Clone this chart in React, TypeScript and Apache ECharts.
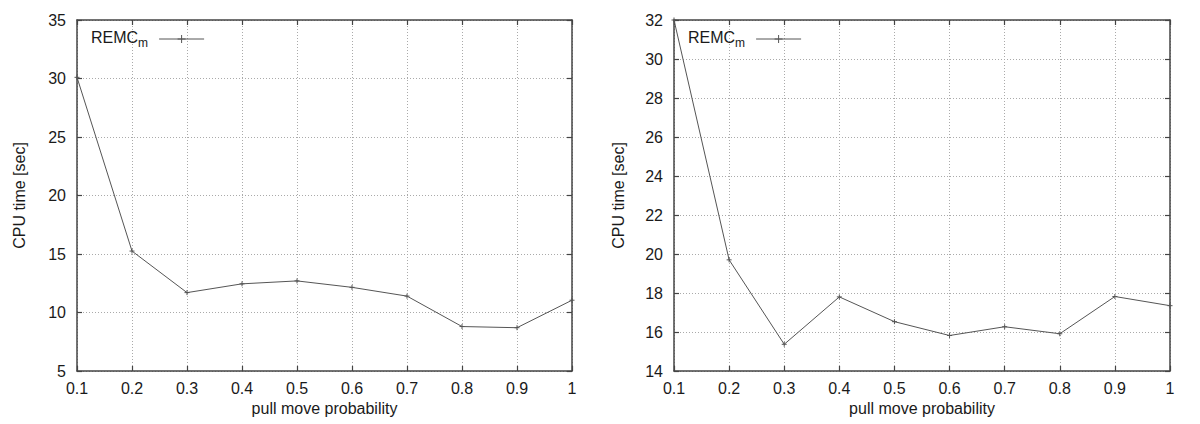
import React, { useEffect, useRef } from "react";
import * as echarts from "echarts";

const probabilities = [0.1, 0.2, 0.3, 0.4, 0.5, 0.6, 0.7, 0.8, 0.9, 1.0];
const cpuTimeLeft = [30.1, 15.25, 11.7, 12.45, 12.7, 12.15, 11.4, 8.8, 8.7, 11.05];
const cpuTimeRight = [32.0, 19.7, 15.37, 17.8, 16.53, 15.82, 16.27, 15.91, 17.82, 17.35];
const seriesName = "REMCm";
const xAxisTitle = "pull move probability";
const yAxisTitle = "CPU time [sec]";

const FONT = "Liberation Sans, Arial, sans-serif";
const TEXT = "#1a1a1a";
const FRAME = "#444";
const LINE = "#555";
const FS = 16;

const fmt = (v: number) => String(Math.round(v * 10) / 10);

function xAxes(gridIndex: number) {
  const common = {
    type: "value",
    gridIndex,
    min: 0.1,
    max: 1,
    interval: 0.1,
    axisLine: { show: true, onZero: false, lineStyle: { color: FRAME, width: 1.5 } },
    axisTick: { show: true, inside: true, length: 5, lineStyle: { color: FRAME, width: 1.2 } },
  };
  return [
    {
      ...common,
      position: "bottom",
      name: xAxisTitle,
      nameLocation: "middle",
      nameGap: 29,
      nameTextStyle: { fontFamily: FONT, fontSize: FS, color: TEXT },
      axisLabel: { formatter: fmt, fontFamily: FONT, fontSize: FS, color: TEXT, margin: 9 },
      splitLine: { show: true, lineStyle: { type: [1, 2], color: "#aaa", width: 1 } },
    },
    {
      ...common,
      position: "top",
      axisLabel: { show: false },
      splitLine: { show: false },
    },
  ];
}

function yAxes(gridIndex: number, min: number, max: number, interval: number, gap: number) {
  const common = {
    type: "value",
    gridIndex,
    min,
    max,
    interval,
    axisLine: { show: true, onZero: false, lineStyle: { color: FRAME, width: 1.5 } },
    axisTick: { show: true, inside: true, length: 5, lineStyle: { color: FRAME, width: 1.2 } },
  };
  return [
    {
      ...common,
      position: "left",
      name: yAxisTitle,
      nameLocation: "middle",
      nameGap: gap,
      nameTextStyle: { fontFamily: FONT, fontSize: FS, color: TEXT },
      axisLabel: { fontFamily: FONT, fontSize: FS, color: TEXT, margin: 11 },
      splitLine: { show: true, lineStyle: { type: [1, 2], color: "#aaa", width: 1 } },
    },
    {
      ...common,
      position: "right",
      axisLabel: { show: false },
      splitLine: { show: false },
    },
  ];
}

function legendFor(left: number) {
  return {
    left,
    top: 22,
    align: "right",
    itemWidth: 45,
    itemHeight: 10,
    data: [seriesName],
    selectedMode: false,
    lineStyle: { color: LINE, width: 1 },
    itemStyle: { color: "transparent", borderColor: LINE, borderWidth: 1 },
    formatter: () => "{a|REMC}{b|m}",
    textStyle: {
      fontFamily: FONT,
      color: TEXT,
      rich: {
        a: { fontFamily: FONT, fontSize: FS, color: TEXT, lineHeight: 20, verticalAlign: "top" },
        b: { fontFamily: FONT, fontSize: 12, color: TEXT, lineHeight: 12, verticalAlign: "bottom", padding: [10, 6, 0, 0] },
      },
    },
  };
}

function lineSeries(values: number[], xi: number, yi: number) {
  return {
    type: "line",
    name: seriesName,
    xAxisIndex: xi,
    yAxisIndex: yi,
    data: probabilities.map((p, i) => [p, values[i]]),
    symbol: "path://M0,5L10,5M5,0L5,10",
    symbolSize: 5,
    showSymbol: true,
    lineStyle: { color: LINE, width: 1 },
    itemStyle: { color: "transparent", borderColor: LINE, borderWidth: 1 },
    clip: true,
  };
}

export default function App() {
  const ref = useRef<HTMLDivElement>(null);
  useEffect(() => {
    if (!ref.current) return;
    const chart = echarts.init(ref.current, undefined, { renderer: "svg" });
    chart.setOption({
      animation: false,
      backgroundColor: "#fff",
      grid: [
        { left: 77, top: 20, width: 495, height: 351 },
        { left: 674, top: 20, width: 496, height: 351 },
      ],
      legend: [legendFor(86), legendFor(683)],
      xAxis: [...xAxes(0), ...xAxes(1)],
      yAxis: [...yAxes(0, 5, 35, 5, 50), ...yAxes(1, 14, 32, 2, 48)],
      series: [lineSeries(cpuTimeLeft, 0, 0), lineSeries(cpuTimeRight, 2, 2)],
    });
    return () => chart.dispose();
  }, []);
  return (
    <div
      ref={ref}
      style={{ position: "fixed", left: 0, top: 0, width: 1200, height: 424, background: "#fff" }}
    />
  );
}
